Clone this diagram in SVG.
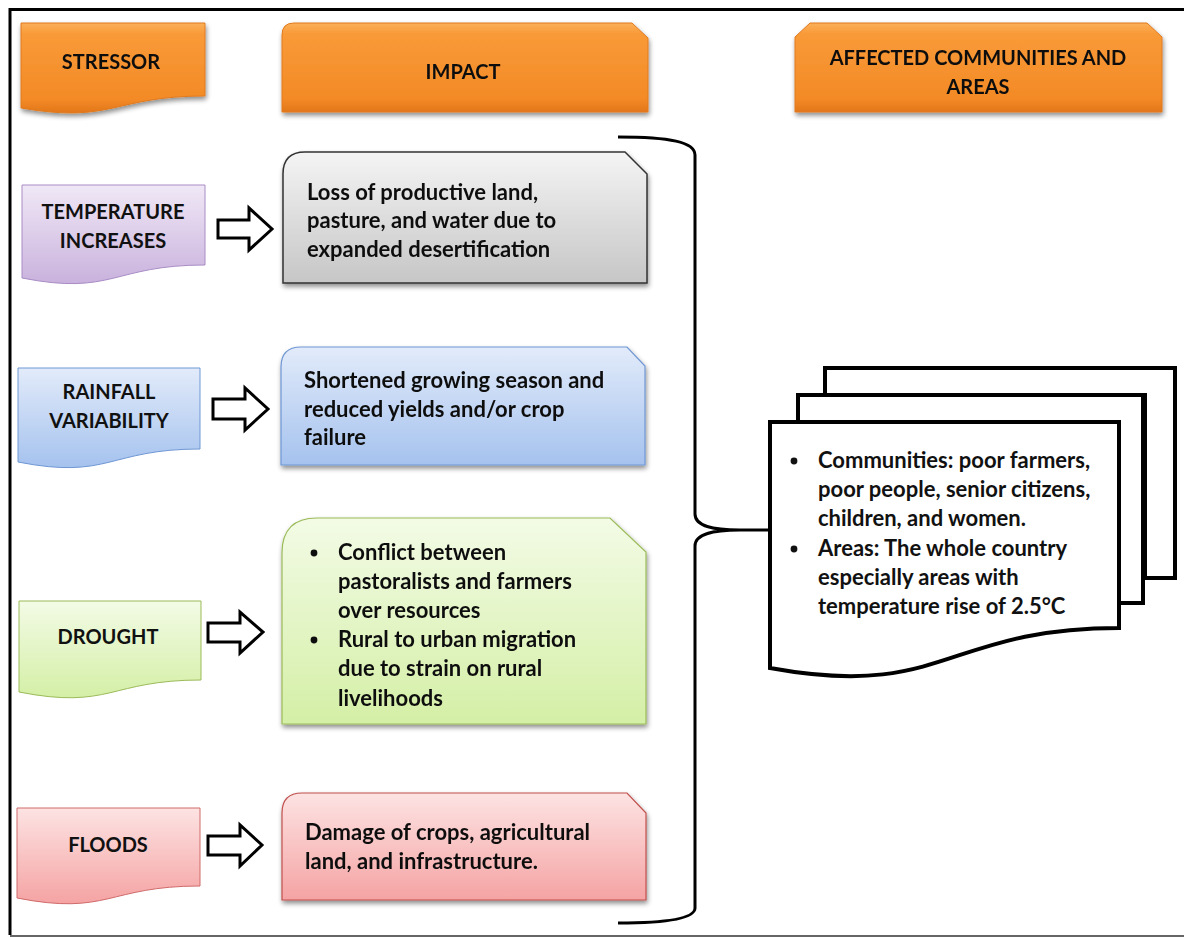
<svg xmlns="http://www.w3.org/2000/svg" width="1184" height="938" viewBox="0 0 1184 938">
  <style>
    .t { font-family: Lato, "Liberation Sans", sans-serif; font-weight: bold; font-size: 20px; fill: #111; }
    .b { font-size: 22px; }
    .c { text-anchor: middle; }
    .hd { font-size: 20px; }
    .arrow { fill: #fff; stroke: #000; stroke-width: 3; stroke-linejoin: miter; }
    .brace { fill: none; stroke: #000; stroke-width: 3; stroke-linecap: butt; }
    .doc { fill: #fff; stroke: #000; stroke-width: 4; stroke-linejoin: miter; }
  </style>
  <defs>
    <linearGradient id="gOrange" x1="0" y1="0" x2="0" y2="1">
      <stop offset="0" stop-color="#FBB05A"/>
      <stop offset="0.12" stop-color="#F99A38"/>
      <stop offset="0.85" stop-color="#F38A26"/>
      <stop offset="1" stop-color="#E2761A"/>
    </linearGradient>
    <linearGradient id="gPurple" x1="0" y1="0" x2="0" y2="1">
      <stop offset="0" stop-color="#F0E8F6"/>
      <stop offset="1" stop-color="#C9B2DD"/>
    </linearGradient>
    <linearGradient id="gBlue" x1="0" y1="0" x2="0" y2="1">
      <stop offset="0" stop-color="#E2EBFA"/>
      <stop offset="1" stop-color="#A5C2EE"/>
    </linearGradient>
    <linearGradient id="gGreen" x1="0" y1="0" x2="0" y2="1">
      <stop offset="0" stop-color="#F3FBE6"/>
      <stop offset="1" stop-color="#D4EFA6"/>
    </linearGradient>
    <linearGradient id="gPink" x1="0" y1="0" x2="0" y2="1">
      <stop offset="0" stop-color="#FDE3E3"/>
      <stop offset="1" stop-color="#F5A3A3"/>
    </linearGradient>
    <linearGradient id="gGrey" x1="0" y1="0" x2="0" y2="1">
      <stop offset="0" stop-color="#F4F4F4"/>
      <stop offset="1" stop-color="#C6C6C6"/>
    </linearGradient>
    <filter id="shadow" x="-5%" y="-10%" width="112%" height="125%">
      <feGaussianBlur in="SourceAlpha" stdDeviation="2.5"/>
      <feOffset dx="1" dy="3" result="b"/>
      <feComponentTransfer><feFuncA type="linear" slope="0.45"/></feComponentTransfer>
      <feMerge><feMergeNode/><feMergeNode in="SourceGraphic"/></feMerge>
    </filter>
  </defs>

  <!-- page frame -->
  <g id="frame" fill="none">
    <path d="M10,935 V9.5 H1184" stroke="#000" stroke-width="3"/>
    <path d="M10,936 H1184" stroke="#666" stroke-width="2"/>
  </g>

  <!-- column headers -->
  <g id="hdr-stressor" filter="url(#shadow)">
    <path d="M21,23 H205 V96 C113,96 113,124 21,108 Z" fill="url(#gOrange)" stroke="#E07A1E" stroke-width="1"/>
    <text class="t c hd" x="111" y="69">STRESSOR</text>
  </g>
  <g id="hdr-impact" filter="url(#shadow)">
    <path d="M294,23 H632 L648,38 V112 H282 V35 Q282,23 294,23 Z" fill="url(#gOrange)" stroke="#E07A1E" stroke-width="1"/>
    <text class="t c hd" x="463" y="79">IMPACT</text>
  </g>
  <g id="hdr-affected" filter="url(#shadow)">
    <path d="M810,23 H1147 L1162,37 V112 H795 V37 Z" fill="url(#gOrange)" stroke="#E07A1E" stroke-width="1"/>
    <text class="t c hd" x="978" y="65">AFFECTED COMMUNITIES AND</text>
    <text class="t c hd" x="978" y="94">AREAS</text>
  </g>

  <!-- stressors -->
  <g id="s-temperature">
    <path d="M22,185 H205 V265 C113,265 113,296 22,278 Z" fill="url(#gPurple)" stroke="#A98CC6" stroke-width="1"/>
    <text class="t c" x="113" y="219">TEMPERATURE</text>
    <text class="t c" x="113" y="248">INCREASES</text>
  </g>
  <g id="s-rainfall">
    <path d="M18,368 H200 V449 C109,449 109,480 18,462 Z" fill="url(#gBlue)" stroke="#6F97D4" stroke-width="1"/>
    <text class="t c" x="109" y="399">RAINFALL</text>
    <text class="t c" x="109" y="428">VARIABILITY</text>
  </g>
  <g id="s-drought">
    <path d="M19,601 H201 V680 C110,680 110,710 19,692 Z" fill="url(#gGreen)" stroke="#9BBB59" stroke-width="1"/>
    <text class="t c" x="108" y="644">DROUGHT</text>
  </g>
  <g id="s-floods">
    <path d="M17,808 H200 V886 C108,886 108,916 17,898 Z" fill="url(#gPink)" stroke="#D06A6A" stroke-width="1"/>
    <text class="t c" x="108" y="852">FLOODS</text>
  </g>

  <!-- impacts -->
  <g id="i-land" filter="url(#shadow)">
    <path d="M305,152 H625 L647,174 V283 H283 V174 Q283,152 305,152 Z" fill="url(#gGrey)" stroke="#333" stroke-width="1.5"/>
    <text class="t b" x="307" y="200">Loss of productive land,</text>
    <text class="t b" x="307" y="228">pasture, and water due to</text>
    <text class="t b" x="307" y="257">expanded desertification</text>
  </g>
  <g id="i-season" filter="url(#shadow)">
    <path d="M301,347 H627 L645,366 V465 H281 V367 Q281,347 301,347 Z" fill="url(#gBlue)" stroke="#6F97D4" stroke-width="1.2"/>
    <text class="t b" x="304" y="388">Shortened growing season and</text>
    <text class="t b" x="304" y="417">reduced yields and/or crop</text>
    <text class="t b" x="304" y="445">failure</text>
  </g>
  <g id="i-conflict" filter="url(#shadow)">
    <path d="M317,518 H610 L646,552 V724 H282 V553 Q282,518 317,518 Z" fill="url(#gGreen)" stroke="#9BBB59" stroke-width="1.2"/>
    <circle cx="314" cy="553" r="3.4" fill="#111"/>
    <circle cx="314" cy="640" r="3.4" fill="#111"/>
    <text class="t b" x="338" y="560">Conflict between</text>
    <text class="t b" x="338" y="589">pastoralists and farmers</text>
    <text class="t b" x="338" y="618">over resources</text>
    <text class="t b" x="338" y="647">Rural to urban migration</text>
    <text class="t b" x="338" y="676">due to strain on rural</text>
    <text class="t b" x="338" y="706">livelihoods</text>
  </g>
  <g id="i-damage" filter="url(#shadow)">
    <path d="M302,793 H627 L646,813 V900 H282 V813 Q282,793 302,793 Z" fill="url(#gPink)" stroke="#C0504D" stroke-width="1.2"/>
    <text class="t b" x="305" y="840">Damage of crops, agricultural</text>
    <text class="t b" x="305" y="869">land, and infrastructure.</text>
  </g>

  <!-- affected communities and areas: stacked documents -->
  <g id="affected">
    <path class="doc" d="M825,368 H1175 V578 H1145 V395 H825 Z"/>
    <path class="doc" d="M798,395 H1143 V603 H1119 V422 H798 Z"/>
    <path class="doc" d="M770,422 H1119 V628 C945,628 945,700 770,668 Z"/>
    <circle cx="794" cy="461" r="3.4" fill="#111"/>
    <circle cx="794" cy="549" r="3.4" fill="#111"/>
    <text class="t b" x="818" y="468">Communities: poor farmers,</text>
    <text class="t b" x="818" y="497">poor people, senior citizens,</text>
    <text class="t b" x="818" y="526">children, and women.</text>
    <text class="t b" x="818" y="556">Areas: The whole country</text>
    <text class="t b" x="818" y="585">especially areas with</text>
    <text class="t b" x="818" y="614">temperature rise of 2.5°C</text>
  </g>

  <!-- connectors -->
  <g id="connectors">
    <path class="arrow" d="M218,220 H249 V208 L272,229 L249,250 V238 H218 Z"/>
    <path class="arrow" d="M213,399 H245 V388 L268,409 L245,430 V419 H213 Z"/>
    <path class="arrow" d="M208,623 H240 V612 L263,632 L240,653 V642 H208 Z"/>
    <path class="arrow" d="M208,836 H240 V825 L262,845 L240,866 V855 H208 Z"/>
    <path class="brace" d="M618,137 C670,137 695,142 695,155 V514 C695,527 715,530 740,530 H770 M740,530 C715,530 695,533 695,546 V908 C695,918 670,923 618,923"/>
  </g>
</svg>
